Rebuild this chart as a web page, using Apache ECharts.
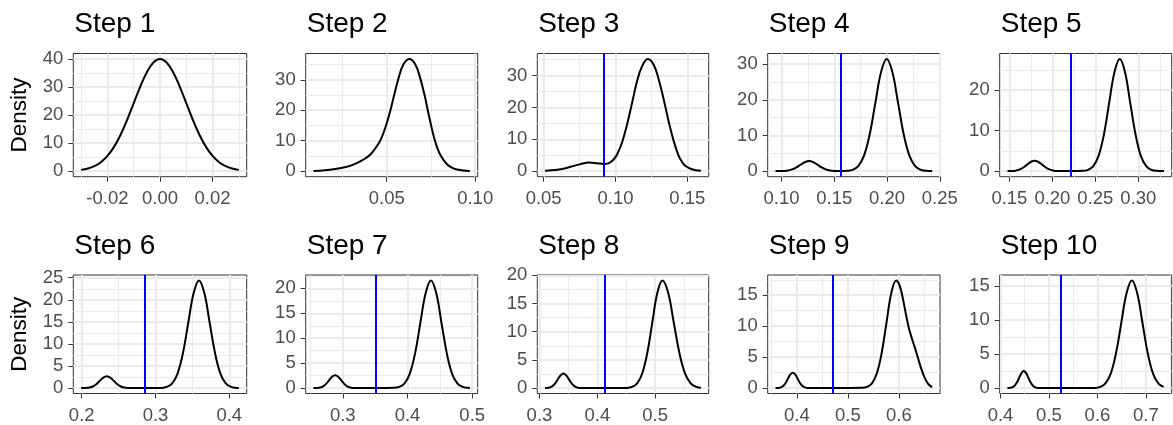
<!DOCTYPE html>
<html><head><meta charset="utf-8">
<script src="https://cdn.jsdelivr.net/npm/echarts@6.0.0/dist/echarts.min.js"></script>
<style>html,body{margin:0;padding:0;background:#fff}#chart{width:1173px;height:425px}</style>
</head><body><div id="chart"></div>
<script>
const stepTitles = ['Step 1','Step 2','Step 3','Step 4','Step 5','Step 6','Step 7','Step 8','Step 9','Step 10'];

const step1 = [[-0.03,0.44],[-0.0275,0.91],[-0.025,1.75],[-0.0225,3.17],[-0.02,5.40],[-0.0175,8.63],[-0.015,12.95],[-0.0125,18.26],[-0.01,24.20],[-0.0075,30.11],[-0.005,35.21],[-0.0025,38.66],[0,39.89],[0.0025,38.66],[0.005,35.21],[0.0075,30.11],[0.01,24.20],[0.0125,18.26],[0.015,12.95],[0.0175,8.63],[0.02,5.40],[0.0225,3.17],[0.025,1.75],[0.0275,0.91],[0.03,0.44]];
const step2 = [[0.0086,0.05],[0.015,0.3],[0.0227,0.87],[0.028,1.5],[0.0321,2.35],[0.036,3.5],[0.0406,5.4],[0.0444,8.2],[0.0468,10.6],[0.0495,14.8],[0.0519,19.6],[0.054,24.5],[0.0565,30.2],[0.0594,35.0],[0.0627,36.8],[0.066,35.2],[0.0688,30.8],[0.0716,24.4],[0.0731,20.2],[0.075,15.2],[0.0768,10.9],[0.079,7.0],[0.081,4.6],[0.0838,2.4],[0.0865,1.2],[0.089,0.6],[0.093,0.22],[0.097,0.07]];
const step3 = [[0.051,0.08],[0.0595,0.4],[0.0645,0.8],[0.0688,1.35],[0.0757,2.2],[0.0815,2.7],[0.0873,2.5],[0.0919,2.25],[0.0945,2.35],[0.0965,2.8],[0.099,3.8],[0.1012,5.3],[0.1046,9.0],[0.1081,14.7],[0.1116,21.5],[0.115,28.2],[0.1185,32.9],[0.1225,35.2],[0.1266,33.4],[0.1301,28.8],[0.1336,22.5],[0.137,15.7],[0.1405,9.5],[0.144,4.8],[0.1465,2.8],[0.1486,1.7],[0.1532,0.6],[0.1595,0.1]];
const step4 = [[0.0943,0.02],[0.1,0.03],[0.105,0.13],[0.11,0.47],[0.114,1.02],[0.118,1.78],[0.122,2.49],[0.1261,2.8],[0.13,2.52],[0.134,1.82],[0.138,1.05],[0.142,0.49],[0.146,0.18],[0.151,0.05],[0.157,0.01],[0.1619,0.07],[0.1673,0.35],[0.1727,1.38],[0.1781,4.25],[0.1835,10.2],[0.1889,19.05],[0.1943,27.7],[0.1997,31.4],[0.2051,27.7],[0.2105,19.05],[0.2159,10.2],[0.2213,4.25],[0.2267,1.38],[0.2321,0.35],[0.2375,0.07],[0.2428,0.02]];
const step5 = [[0.1478,0.01],[0.1523,0.03],[0.1568,0.11],[0.1613,0.35],[0.1658,0.83],[0.1703,1.55],[0.1748,2.25],[0.1793,2.55],[0.1838,2.25],[0.1883,1.55],[0.1928,0.83],[0.1973,0.35],[0.2018,0.11],[0.2063,0.03],[0.22,0.01],[0.2353,0.06],[0.2414,0.31],[0.2476,1.22],[0.2537,3.75],[0.2599,9.0],[0.266,16.8],[0.2722,24.45],[0.2783,27.7],[0.2845,24.45],[0.2906,16.8],[0.2968,9.0],[0.3029,3.75],[0.3091,1.22],[0.3152,0.31],[0.3214,0.06],[0.3297,0.01]];
const step6 = [[0.1993,0.01],[0.2055,0.03],[0.2103,0.12],[0.215,0.37],[0.2198,0.88],[0.2245,1.64],[0.2293,2.38],[0.234,2.7],[0.2388,2.38],[0.2435,1.64],[0.2483,0.88],[0.253,0.37],[0.2578,0.12],[0.2625,0.03],[0.2673,0.01],[0.285,0.0],[0.3081,0.05],[0.3154,0.27],[0.3226,1.07],[0.3299,3.3],[0.3372,7.92],[0.3444,14.8],[0.3517,21.53],[0.3589,24.4],[0.3662,21.53],[0.3734,14.8],[0.3807,7.92],[0.3879,3.3],[0.3952,1.07],[0.4024,0.27],[0.4097,0.05],[0.4129,0.02]];
const step7 = [[0.2548,0.01],[0.2603,0.03],[0.265,0.11],[0.2696,0.35],[0.2743,0.84],[0.2789,1.58],[0.2836,2.29],[0.2882,2.6],[0.2929,2.29],[0.2975,1.58],[0.3022,0.84],[0.3068,0.35],[0.3115,0.11],[0.3161,0.03],[0.3208,0.01],[0.35,0.0],[0.3792,0.05],[0.3873,0.24],[0.3955,0.95],[0.4036,2.92],[0.4118,7.01],[0.4199,13.1],[0.4281,19.06],[0.4362,21.6],[0.4444,19.06],[0.4525,13.1],[0.4607,7.01],[0.4688,2.92],[0.477,0.95],[0.4851,0.24],[0.4933,0.05],[0.4964,0.03]];
const step8 = [[0.3097,0.01],[0.3128,0.03],[0.3176,0.11],[0.3223,0.35],[0.3271,0.84],[0.3318,1.58],[0.3366,2.29],[0.3413,2.6],[0.346,2.29],[0.3508,1.58],[0.3556,0.84],[0.3603,0.35],[0.3651,0.11],[0.3698,0.03],[0.3746,0.01],[0.41,0.0],[0.4514,0.04],[0.4601,0.21],[0.4689,0.84],[0.4776,2.6],[0.4864,6.23],[0.4951,11.65],[0.5039,16.94],[0.5126,19.1],[0.5224,16.94],[0.5321,11.65],[0.5419,6.23],[0.5516,2.6],[0.5614,0.84],[0.5711,0.21],[0.5791,0.06]];
const step9 = [[0.3582,0.01],[0.3635,0.03],[0.3683,0.11],[0.373,0.34],[0.3778,0.81],[0.3825,1.52],[0.3873,2.2],[0.392,2.5],[0.3968,2.2],[0.4015,1.52],[0.4063,0.81],[0.411,0.34],[0.4158,0.11],[0.4205,0.03],[0.4253,0.01],[0.47,0.0],[0.5283,0.04],[0.5378,0.19],[0.5473,0.76],[0.5568,2.35],[0.5663,5.65],[0.5758,10.55],[0.5853,15.36],[0.5948,17.4],[0.6,16.9],[0.605,15.6],[0.61,13.6],[0.615,11.5],[0.62,9.6],[0.625,8.2],[0.63,6.9],[0.635,5.6],[0.64,4.2],[0.645,2.9],[0.65,1.8],[0.655,1.0],[0.66,0.45],[0.6654,0.15]];
const step10 = [[0.4145,0.01],[0.4195,0.03],[0.4243,0.11],[0.429,0.34],[0.4338,0.81],[0.4385,1.52],[0.4433,2.2],[0.448,2.5],[0.4528,2.2],[0.4575,1.52],[0.4623,0.81],[0.467,0.34],[0.4718,0.11],[0.4765,0.03],[0.4813,0.01],[0.54,0.0],[0.5947,0.03],[0.6056,0.18],[0.6165,0.7],[0.6274,2.14],[0.6383,5.15],[0.6492,9.61],[0.6601,13.99],[0.671,15.85],[0.6819,13.99],[0.6928,9.61],[0.7037,5.15],[0.7146,2.14],[0.7255,0.7],[0.7364,0.18],[0.737,0.17]];

const blueLines = [null, null, 0.0919, 0.1563, 0.2218, 0.2849, 0.3503, 0.4135, 0.4706, 0.525];

const xTickLabels = [['-0.02','0.00','0.02'],['0.05','0.10'],['0.05','0.10','0.15'],['0.10','0.15','0.20','0.25'],['0.15','0.20','0.25','0.30'],['0.2','0.3','0.4'],['0.3','0.4','0.5'],['0.3','0.4','0.5'],['0.4','0.5','0.6'],['0.4','0.5','0.6','0.7']];
const yTickLabels = [['0','10','20','30','40'],['0','10','20','30'],['0','10','20','30'],['0','10','20','30'],['0','10','20'],['0','5','10','15','20','25'],['0','5','10','15','20'],['0','5','10','15','20'],['0','5','10','15'],['0','5','10','15']];
const yAxisTitle = 'Density';

const steps = [step1, step2, step3, step4, step5, step6, step7, step8, step9, step10];

const FONT = '"Liberation Sans", Arial, Helvetica, sans-serif';
const colLeft = [73.3, 305.7, 537.3, 767.7, 999.7];
const colWidth = [173.4, 172, 171.4, 172.3, 172];
const rowTop = [53.5, 275];
const rowHeight = [123.2, 122.7];

function minors(ticks, lo, hi) {
  const st = ticks[1] - ticks[0];
  const out = [];
  for (let k = -3; k <= ticks.length + 3; k++) {
    const v = ticks[0] + st * (k + 0.5);
    if (v >= lo && v <= hi) out.push(+v.toFixed(8));
  }
  return out;
}
function labeler(vals, labels) {
  return function (v) {
    for (let i = 0; i < vals.length; i++) if (Math.abs(vals[i] - v) < 1e-9) return labels[i];
    return '';
  };
}

const grids = [], xAxes = [], yAxes = [], series = [], titles = [];
steps.forEach((d, i) => {
  const row = Math.floor(i / 5), col = i % 5;
  const xs = d.map(p => p[0]), ys = d.map(p => p[1]);
  const x0 = Math.min(...xs), x1 = Math.max(...xs), yTop = Math.max(...ys);
  const xmin = x0 - 0.05 * (x1 - x0), xmax = x1 + 0.05 * (x1 - x0);
  const ymin = -0.05 * yTop, ymax = 1.05 * yTop;
  const xt = xTickLabels[i].map(Number), yt = yTickLabels[i].map(Number);
  grids.push({left: colLeft[col], top: rowTop[row], width: colWidth[col], height: rowHeight[row],
    show: true, borderColor: '#333333', borderWidth: 1, backgroundColor: 'transparent'});
  titles.push({text: stepTitles[i], left: colLeft[col] + 1, top: rowTop[row] - 43, padding: 0,
    textStyle: {fontSize: 28, fontWeight: 'normal', color: '#000', fontFamily: FONT}});
  xAxes.push({type: 'value', gridIndex: i, min: xmin, max: xmax, position: 'bottom',
    axisLine: {show: false, onZero: false},
    axisTick: {show: true, length: 5, customValues: xt, lineStyle: {color: '#333333', width: 1}},
    axisLabel: {customValues: xt, formatter: labeler(xt, xTickLabels[i]), color: '#4D4D4D', fontSize: 18.5, margin: 12.5, fontFamily: FONT},
    splitLine: {show: true, lineStyle: {color: '#EBEBEB', width: 2}}});
  xAxes.push({type: 'value', gridIndex: i, min: xmin, max: xmax, position: 'top',
    axisLine: {show: false, onZero: false}, axisTick: {show: false, customValues: minors(xt, xmin, xmax)}, axisLabel: {show: false},
    splitLine: {show: true, lineStyle: {color: '#EBEBEB', width: 1}}});
  yAxes.push({type: 'value', gridIndex: i, min: ymin, max: ymax, position: 'left',
    name: col === 0 ? yAxisTitle : '', nameLocation: 'middle', nameGap: 42,
    nameTextStyle: {fontSize: 22.5, color: '#000', fontFamily: FONT},
    axisLine: {show: false, onZero: false},
    axisTick: {show: true, length: 5, customValues: yt, lineStyle: {color: '#333333', width: 1}},
    axisLabel: {customValues: yt, formatter: labeler(yt, yTickLabels[i]), color: '#4D4D4D', fontSize: 18.5, margin: 10, fontFamily: FONT},
    splitLine: {show: true, lineStyle: {color: '#EBEBEB', width: 2}}});
  yAxes.push({type: 'value', gridIndex: i, min: ymin, max: ymax, position: 'right',
    axisLine: {show: false, onZero: false}, axisTick: {show: false, customValues: minors(yt, ymin, ymax)}, axisLabel: {show: false},
    splitLine: {show: true, lineStyle: {color: '#EBEBEB', width: 1}}});
  const s = {type: 'line', xAxisIndex: 2 * i, yAxisIndex: 2 * i, data: d, showSymbol: false, smooth: 0.4,
    lineStyle: {color: '#000', width: 2}, itemStyle: {color: '#000'}, silent: true, z: 3};
  if (blueLines[i] !== null) {
    s.markLine = {symbol: 'none', silent: true, animation: false, precision: 6, label: {show: false},
      lineStyle: {color: '#0000FF', width: 2, type: 'solid'}, data: [{xAxis: blueLines[i]}]};
  }
  series.push(s);
});

const chart = echarts.init(document.getElementById('chart'), null, {renderer: 'canvas'});
chart.setOption({animation: false, backgroundColor: '#ffffff', title: titles, grid: grids,
  xAxis: xAxes, yAxis: yAxes, series: series});
</script></body></html>
